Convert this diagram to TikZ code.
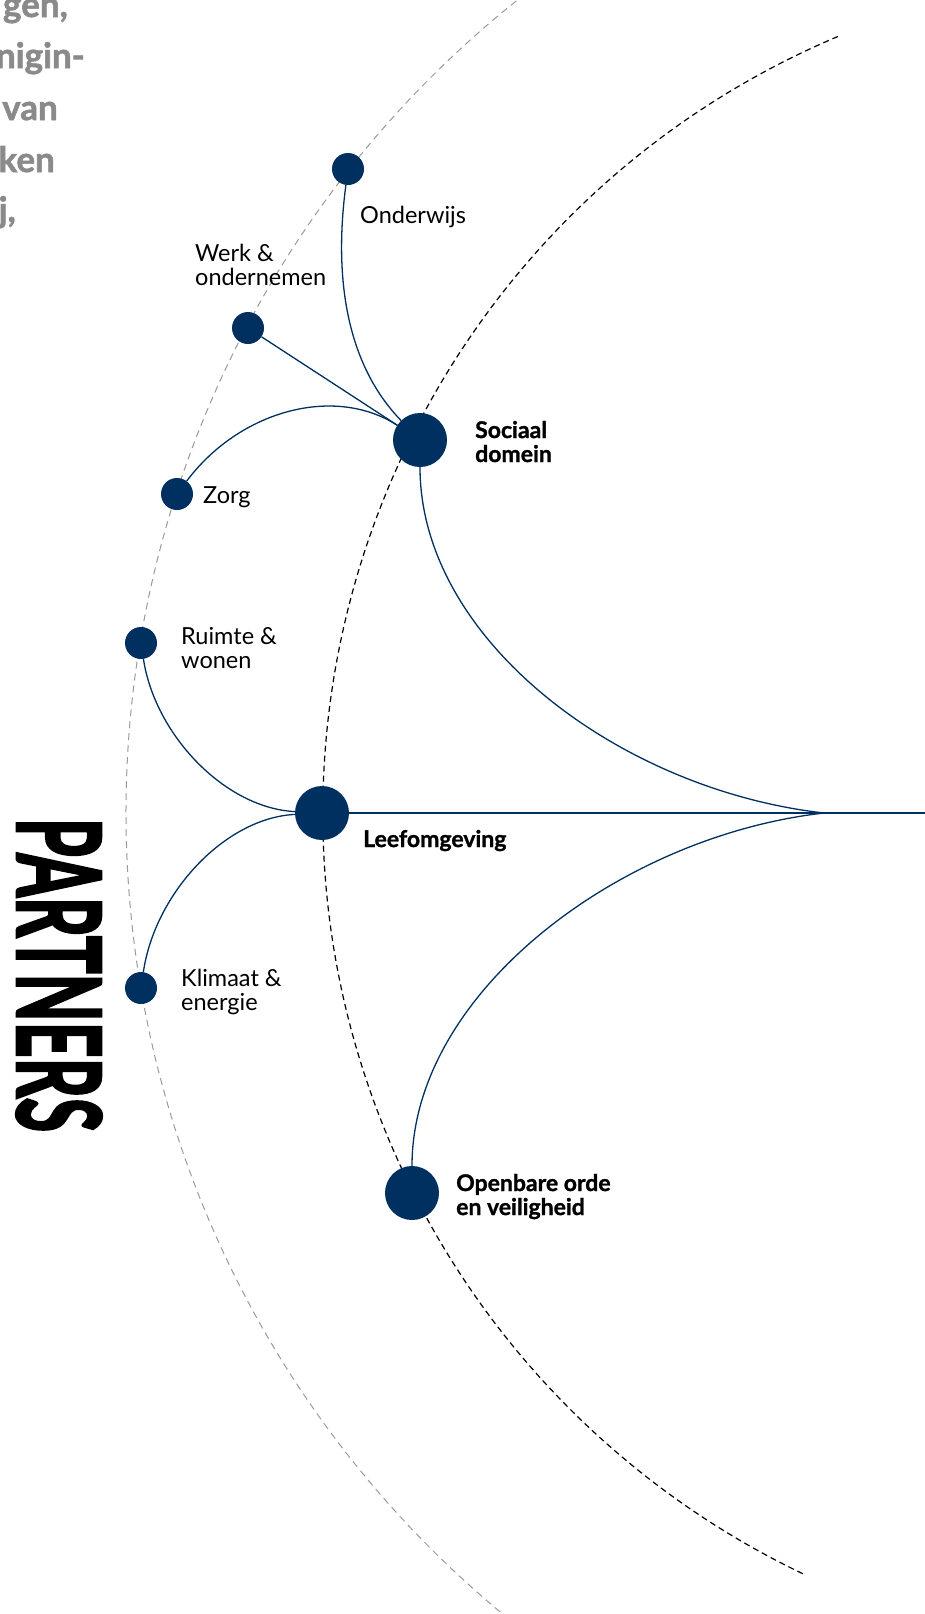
\documentclass[tikz,border=0pt]{standalone}
\usepackage{fontspec}
\setmainfont[BoldFeatures={FakeBold=1.2}]{Lato}
\newfontfamily\heavyfont[BoldFeatures={FakeBold=3}]{Lato}
\newfontfamily\grayfont[BoldFeatures={FakeBold=1.6}]{Lato}
\usepackage{graphicx}
\definecolor{navy}{HTML}{00305F}
\definecolor{txtgray}{HTML}{8A8A8A}
\definecolor{arcgray}{HTML}{9A9A9A}
\begin{document}
\begin{tikzpicture}[x=1pt,y=-1pt,
  bignode/.style={circle,fill=navy,minimum size=54pt,inner sep=0pt},
  smallnode/.style={circle,fill=navy,minimum size=32pt,inner sep=0pt},
  link/.style={draw=navy,line width=1.3pt},
  lbl/.style={inner sep=0pt,align=left,text=black,font=\fontsize{23.5}{24}\selectfont},
  blbl/.style={inner sep=0pt,align=left,text=black,font=\fontsize{23}{24}\selectfont\bfseries},
  graytxt/.style={inner sep=0pt,text=txtgray,font=\grayfont\fontsize{35}{35}\selectfont\bfseries},
  outerarc/.style={draw=arcgray,line width=1pt,dash pattern=on 7pt off 5pt},
  innerarc/.style={draw=black,line width=1.2pt,dash pattern=on 6pt off 4pt}
]
\useasboundingbox (0,0) rectangle (925,1614);
\clip (0,0) rectangle (925,1614);

% concentric dashed arcs
\coordinate (ctr) at (1166,813);
\draw[outerarc] (ctr) ++(232:1040) arc[start angle=232,end angle=128,radius=1040];
\draw[innerarc] (ctr) ++(247.1:843) arc[start angle=247.1,end angle=115.4,radius=843];

% top-left gray text (cut off at the left edge)
\node[graytxt,anchor=base east] (t1) at (68,17) {gen,};
\node[graytxt,anchor=base east] (t2) at (85,68) {nigin-};
\node[graytxt,anchor=base east] (t3) at (58,120) {van};
\node[graytxt,anchor=base east] (t4) at (55,172) {ken};
\node[graytxt,anchor=base east] (t5) at (16,222) {j,};

% PARTNERS
\node[inner sep=0pt,rotate=-90] (partners) at (59,975)
  {\resizebox{314pt}{84pt}{\heavyfont\bfseries PARTNERS}};

% nodes
\node[smallnode] (onder) at (348,169) {};
\node[smallnode] (werk) at (248,328) {};
\node[smallnode] (zorg) at (177,494) {};
\node[smallnode] (ruimte) at (141,643) {};
\node[smallnode] (klimaat) at (141,988) {};
\node[bignode] (sociaal) at (420,440) {};
\node[bignode] (leef) at (322,813) {};
\node[bignode] (open) at (412,1193) {};
\coordinate (conv) at (824,813);
\coordinate (rend) at (926,813);

% connectors
\draw[link] (onder) .. controls (332,290) and (352,370) .. (sociaal);
\draw[link] (werk) -- (sociaal);
\draw[link] (zorg) .. controls (240,410) and (335,385) .. (sociaal);
\draw[link] (sociaal) .. controls (420,640) and (620,790) .. (conv);
\draw[link] (open) .. controls (412,993) and (620,836) .. (conv);
\draw[link] (leef) -- (conv) -- (rend);
\draw[link] (ruimte) .. controls (155,735) and (225,808) .. (leef);
\draw[link] (klimaat) .. controls (155,893) and (225,818) .. (leef);

% labels (base = baseline of the last line)
\node[lbl,anchor=base west] (londer) at (360,223) {Onderwijs};
\node[lbl,anchor=base west] (lwerk) at (195,285) {Werk \&\\ondernemen};
\node[lbl,anchor=base west] (lzorg) at (203,503) {Zorg};
\node[lbl,anchor=base west] (lruimte) at (181,668) {Ruimte \&\\wonen};
\node[lbl,anchor=base west] (lklimaat) at (181,1010) {Klimaat \&\\energie};
\node[blbl,anchor=base west] (lsociaal) at (475,462) {Sociaal\\domein};
\node[blbl,anchor=base west] (lleef) at (363,847) {Leefomgeving};
\node[blbl,anchor=base west] (lopen) at (456,1215) {Openbare orde\\en veiligheid};
\end{tikzpicture}
\end{document}
